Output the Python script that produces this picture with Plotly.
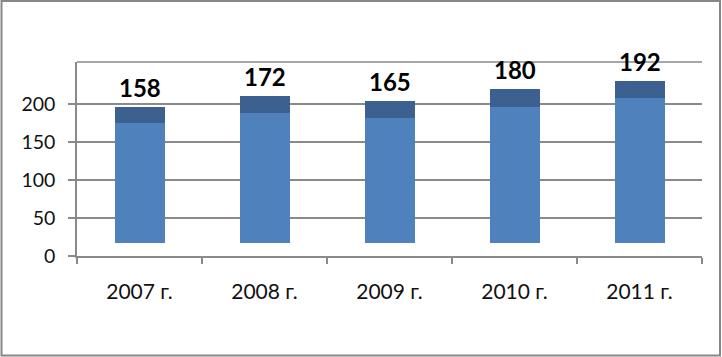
import plotly.graph_objects as go

categories = ["2007 г.", "2008 г.", "2009 г.", "2010 г.", "2011 г."]
base_values = [17, 17, 17, 17, 17]
main_values = [158, 172, 165, 180, 192]
cap_values = [22, 22, 22, 23, 22]
y_tick_values = [0, 50, 100, 150, 200]
y_tick_labels = ["0", "50", "100", "150", "200"]

W, H = 722, 357
ML, MR, MT, MB = 77, 20, 62, 101
PW, PH = W - ML - MR, H - MT - MB

def px_x(x):
    return (x - ML) / PW

def px_y(y):
    return (H - MB - y) / PH

grid_col = "#8a8a8a"

fig = go.Figure()
fig.add_bar(x=categories, y=base_values, marker=dict(color="rgba(0,0,0,0)", line=dict(width=0)),
            hoverinfo="skip", showlegend=False)
fig.add_bar(x=categories, y=main_values, marker=dict(color="#4f81bd", line=dict(width=0)), showlegend=False)
fig.add_bar(x=categories, y=cap_values, marker=dict(color="#3c6191", line=dict(width=0)), showlegend=False)

for c, b, m, k in zip(categories, base_values, main_values, cap_values):
    fig.add_annotation(x=c, y=b + m + k, text=str(m), showarrow=False, yanchor="bottom", yshift=3,
                       font=dict(family="Lato", size=24, color="#000000", weight="bold"))

# plot-area top line and outer frame
fig.add_shape(type="line", xref="paper", yref="paper", x0=0, x1=1, y0=1, y1=1,
              line=dict(color=grid_col, width=1.5))
fig.add_shape(type="rect", xref="paper", yref="paper",
              x0=px_x(1.5), x1=px_x(720), y0=px_y(355.5), y1=px_y(1),
              line=dict(color="#878787", width=2), fillcolor="rgba(0,0,0,0)")

fig.update_layout(
    width=W, height=H,
    margin=dict(l=ML, r=MR, t=MT, b=MB, pad=0),
    barmode="stack", bargap=0.6,
    plot_bgcolor="white", paper_bgcolor="white",
    font=dict(family="Lato", color="#111111"),
    showlegend=False,
)
fig.update_xaxes(
    type="category", showgrid=False, showline=True, linecolor=grid_col, linewidth=1.5,
    ticks="outside", tickson="boundaries", ticklen=6, tickcolor=grid_col, tickwidth=1.5,
    tickfont=dict(family="Lato", size=21, color="#111111"), ticklabelstandoff=16,
)
fig.update_yaxes(
    range=[0, 256], tickvals=y_tick_values, ticktext=y_tick_labels,
    showgrid=True, gridcolor=grid_col, gridwidth=1.5, zeroline=False,
    showline=True, linecolor=grid_col, linewidth=1.5,
    ticks="outside", ticklen=7, tickcolor=grid_col, tickwidth=1.5,
    tickfont=dict(family="Lato", size=19.5, color="#111111"), ticklabelstandoff=9,
)

fig.write_html("out.html", config={"displayModeBar": False},
               post_script="document.body.style.margin='0';document.body.style.overflow='hidden';")
